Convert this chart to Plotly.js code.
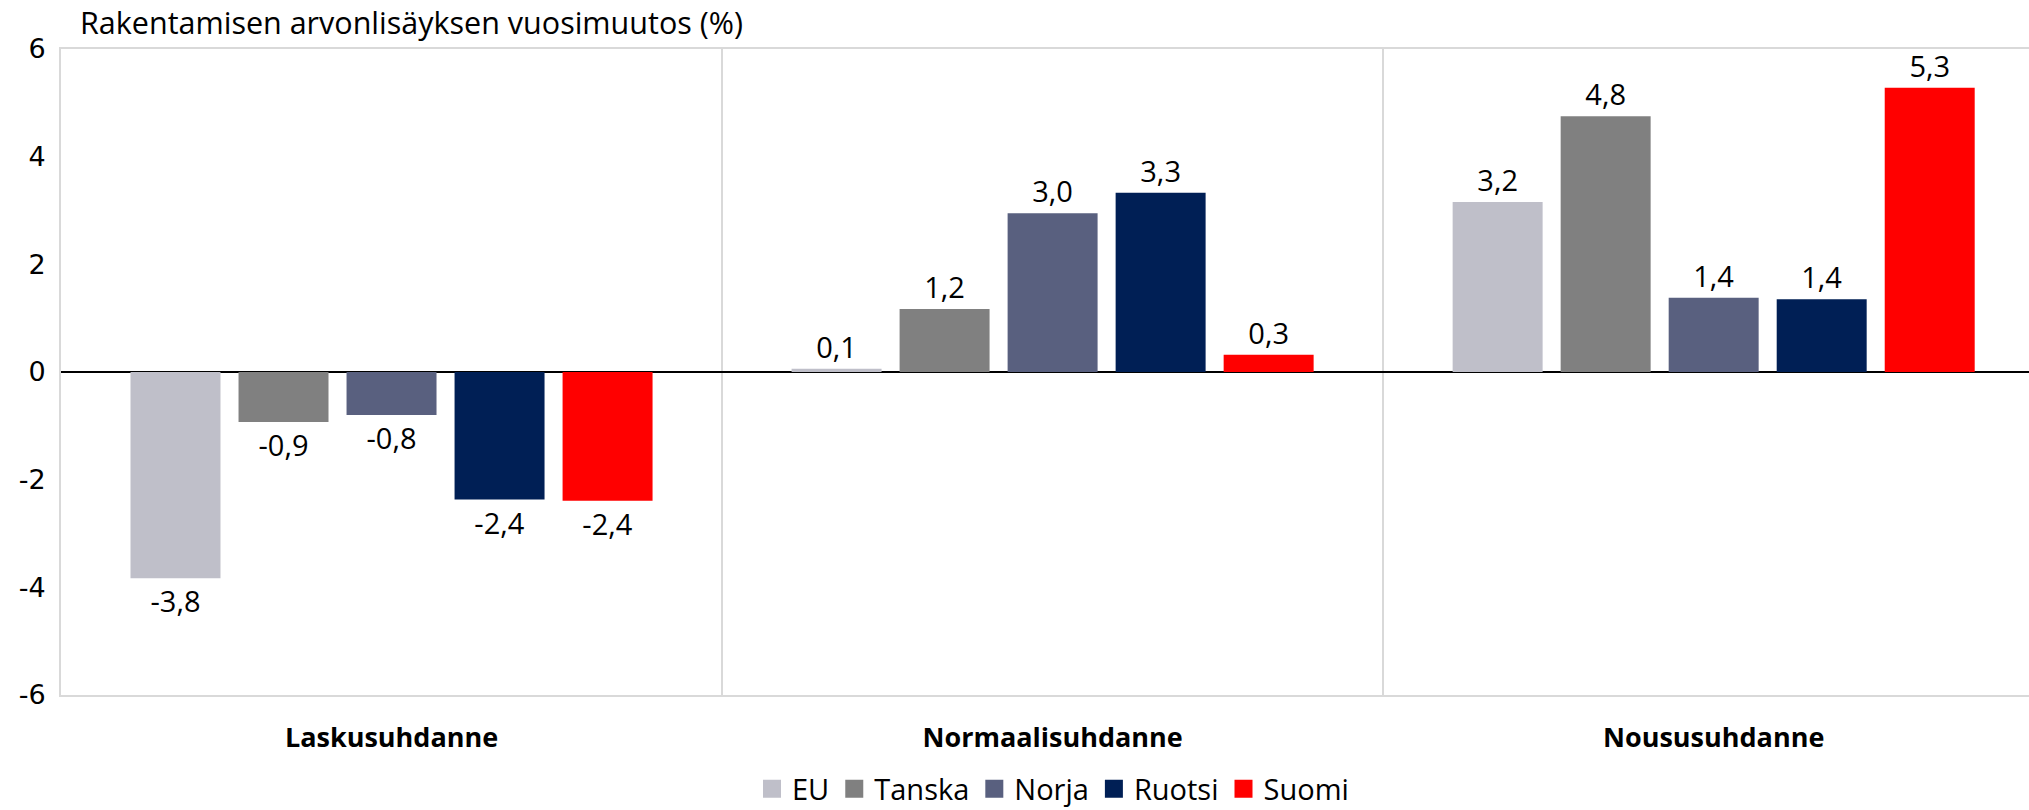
<!DOCTYPE html>
<html>
<head>
<meta charset="utf-8">
<script src="https://cdn.plot.ly/plotly-3.0.1.min.js"></script>
<style>html,body{margin:0;padding:0;background:#fff;}</style>
</head>
<body>
<div id="chart" style="width:2029px;height:810px;"></div>
<script>
const categories = ["Laskusuhdanne", "Normaalisuhdanne", "Noususuhdanne"];
const seriesNames = ["EU", "Tanska", "Norja", "Ruotsi", "Suomi"];
const euValues = [-3.83, 0.06, 3.16];
const tanskaValues = [-0.93, 1.17, 4.75];
const norjaValues = [-0.80, 2.95, 1.38];
const ruotsiValues = [-2.37, 3.33, 1.35];
const suomiValues = [-2.39, 0.32, 5.28];
const seriesColors = ["#BFBFC9", "#808080", "#59607F", "#001F55", "#FF0000"];
const yTickVals = [-6, -4, -2, 0, 2, 4, 6];
const yTickText = ["-6", "-4", "-2", "0", "2", "4", "6"];
const titleText = "Rakentamisen arvonlisäyksen vuosimuutos (%)";

const narrow = "'Liberation Sans Narrow', 'Arial Narrow', 'Open Sans', sans-serif";
const allValues = [euValues, tanskaValues, norjaValues, ruotsiValues, suomiValues];
const fmt = v => v.toFixed(1).replace('.', ',');

const traces = allValues.map((vals, i) => ({
  type: 'bar',
  name: seriesNames[i],
  x: categories,
  y: vals,
  marker: {color: seriesColors[i], line: {width: 0}},
  text: vals.map(fmt),
  textposition: 'outside',
  textfont: {family: narrow, size: 29, color: '#000'},
  cliponaxis: false,
  hoverinfo: 'skip'
}));

const layout = {
  width: 2029,
  height: 810,
  margin: {l: 61, r: 0, t: 49, b: 115, pad: 0},
  paper_bgcolor: '#fff',
  plot_bgcolor: '#fff',
  barmode: 'group',
  bargap: 0.183,
  bargroupgap: 0.167,
  showlegend: true,
  title: {
    text: titleText,
    font: {family: narrow, size: 30.5, color: '#000'},
    xref: 'container', yref: 'container',
    x: 80 / 2029, xanchor: 'left',
    y: 1 - 23 / 810, yanchor: 'middle'
  },
  xaxis: {
    type: 'category',
    range: [-0.5, 2.477],
    showline: true, mirror: true,
    linecolor: '#d9d9d9', linewidth: 2,
    showgrid: true, gridcolor: '#d9d9d9', gridwidth: 2,
    tickson: 'boundaries',
    ticks: '',
    tickfont: {family: narrow, size: 27, color: '#000', weight: 'bold'},
    ticklabelstandoff: 18,
    zeroline: false,
    automargin: false,
    fixedrange: true
  },
  yaxis: {
    range: [-6, 6],
    tickvals: yTickVals,
    ticktext: yTickText,
    showgrid: false,
    zeroline: true, zerolinecolor: '#000', zerolinewidth: 2,
    showline: true, linecolor: '#d9d9d9', linewidth: 2,
    ticks: '',
    tickfont: {family: "'DejaVu Sans', Verdana, sans-serif", size: 27, color: '#000'},
    ticklabelstandoff: 8,
    automargin: false,
    fixedrange: true
  },
  legend: {
    orientation: 'h',
    xref: 'container', yref: 'container',
    x: 1053 / 2029, xanchor: 'center',
    y: 1 - 789 / 810, yanchor: 'middle',
    font: {family: narrow, size: 29, color: '#000'},
    itemwidth: 30,
    bgcolor: 'rgba(0,0,0,0)'
  }
};

Plotly.newPlot('chart', traces, layout, {staticPlot: true, displayModeBar: false}).then(gd => {
  gd.querySelectorAll('.legend .legendpoints path').forEach(p => {
    p.setAttribute('d', 'M9,9H-9V-9H9Z');
  });
});
</script>
</body>
</html>
